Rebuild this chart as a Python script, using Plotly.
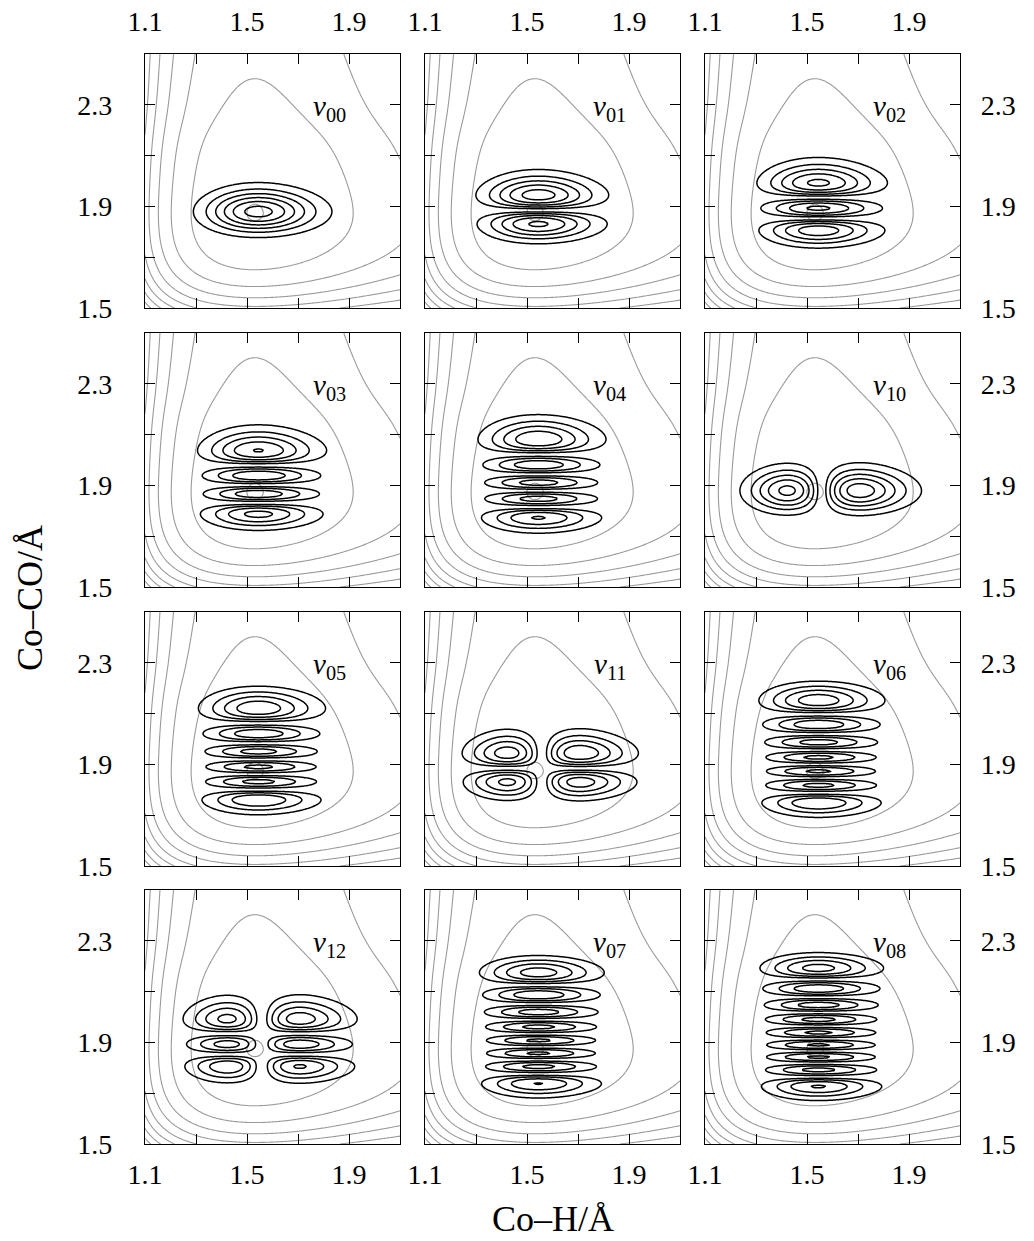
import numpy as np
import plotly.graph_objects as go

# ---------------- axes / ticks ----------------
X_RANGE = [1.1, 2.1]
Y_RANGE = [1.5, 2.5]
TICK_VALS_X = [1.1, 1.3, 1.5, 1.7, 1.9, 2.1]
TICK_TEXT_X = ["1.1", "", "1.5", "", "1.9", ""]
TICK_VALS_Y = [1.5, 1.7, 1.9, 2.1, 2.3, 2.5]
TICK_TEXT_Y = ["1.5", "", "1.9", "", "2.3", ""]

# ---------------- model potential (energy in units of the contour spacing) ----------------
MIN_XY = [1.53, 1.875]        # equilibrium Co-H, Co-CO
MORSE_X = [6.41, 1.3]         # depth, range parameter along Co-H
WALL_X = [0.93, 15.0]         # extra inner wall: amplitude at 1.1 A, steepness
MORSE_Y = [1.876, 2.44]       # Co-CO Morse: depth, range
PES_SHELF_Y = [0.22, 7.1]        # Co-CO stretch side: shelf depth, range
PES_STEP_Y = [0.6, 0.33, 0.05]   # rise beyond the shelf: height, position, width
PES_RISE_Y = [1.2, 0.35, 0.05]   # slow climb: slope, onset, smoothing
PES_BLEND = 0.5                  # Morse / shelf mix on the stretch side
PES_LEVELS = [1, 2, 3, 4, 5, 6, 7, 8, 9]
PES_MIN_LEVEL = 0.013

# ---------------- vibrational states ----------------
KAPPA = [4.13e-3, 8.0e-5]        # hbar^2/2m along Co-H, Co-CO
WF_INNER_K = 11.17               # harmonic compression side felt by the states
WF_SHELF_Y = [0.33, 5.82]
WF_STEP_Y = [0.6, 0.40, 0.03]
WF_RISE_Y = [1.2, 0.42, 0.03]
PSI_STEP = 0.155                 # contour spacing of psi, relative to the v00 peak
N_PSI_LEVELS = 8
STATES = ["00", "01", "02", "03", "04", "10", "05", "11", "06", "12", "07", "08"]
QX = [0, 0, 0, 0, 0, 1, 0, 1, 0, 1, 0, 0]
QY = [0, 1, 2, 3, 4, 0, 5, 1, 6, 2, 7, 8]
LABEL_POS = [1.825, 2.287]

# ---------------- layout (pixels) ----------------
W, H = 1034, 1241
COL_LEFT = [145, 425, 705]
ROW_TOP = [54, 333, 612, 890]
PW, PH = 255, 254
FONT = "Liberation Serif"


def vx(x):
    d, a = MORSE_X
    b, k = WALL_X
    return d * (1 - np.exp(-a * (x - MIN_XY[0]))) ** 2 + b * np.exp(-k * (x - 1.1))


def shelf(d, sh, step, rise):
    ds, as_ = sh
    h, dw, w = step
    g, dw2, w2 = rise
    return (ds * (1 - np.exp(-as_ * d)) ** 2
            + h / (1 + np.exp(-(d - dw) / w))
            + g * w2 * np.logaddexp(0, (d - dw2) / w2))


def vy_pes(y):
    d = y - MIN_XY[1]
    dm, am = MORSE_Y
    morse = dm * (1 - np.exp(-am * d)) ** 2
    outer = PES_BLEND * morse + (1 - PES_BLEND) * shelf(d, PES_SHELF_Y, PES_STEP_Y, PES_RISE_Y)
    return np.where(d < 0, morse, outer)


def vy_wf(y):
    d = y - MIN_XY[1]
    return np.where(d < 0, WF_INNER_K * d ** 2, shelf(d, WF_SHELF_Y, WF_STEP_Y, WF_RISE_Y))


def eig1d(grid, pot, kappa, n):
    h = grid[1] - grid[0]
    main = 2 * kappa / h ** 2 + pot
    off = -kappa / h ** 2 * np.ones(len(grid) - 1)
    Hm = np.diag(main) + np.diag(off, 1) + np.diag(off, -1)
    w, vecs = np.linalg.eigh(Hm)
    return vecs[:, :n] / np.sqrt(h)


NG = 181
XS = np.linspace(X_RANGE[0], X_RANGE[1], NG)
YS = np.linspace(Y_RANGE[0], Y_RANGE[1], NG)
V = vx(XS)[None, :] + vy_pes(YS)[:, None]

XF = np.linspace(1.44, 1.62, 61)
YF = np.linspace(1.80, 1.95, 61)
VF = vx(XF)[None, :] + vy_pes(YF)[:, None]

gx = np.linspace(0.9, 2.9, 700)
gy = np.linspace(1.35, 3.0, 800)
PHI_X = eig1d(gx, vx(gx), KAPPA[0], 3)
PHI_Y = eig1d(gy, vy_wf(gy), KAPPA[1], 10)


def psi_abs(nx, ny):
    fxv = np.abs(np.interp(XS, gx, PHI_X[:, nx]))
    fyv = np.abs(np.interp(YS, gy, PHI_Y[:, ny]))
    return fyv[:, None] * fxv[None, :]


PSI_UNIT = PSI_STEP * psi_abs(0, 0).max()

fig = go.Figure()
layout = dict(
    width=W, height=H, margin=dict(l=0, r=0, t=0, b=0, autoexpand=False),
    paper_bgcolor="white", plot_bgcolor="white", showlegend=False,
    font=dict(family=FONT, color="black"),
)
annotations = []

for i, st in enumerate(STATES):
    r, c = divmod(i, 3)
    k = "" if i == 0 else str(i + 1)
    xa, ya = "x" + k, "y" + k

    fig.add_trace(go.Contour(
        x=XS, y=YS, z=np.round(V, 4), xaxis=xa, yaxis=ya,
        autocontour=False, showscale=False, hoverinfo="skip",
        contours=dict(start=PES_LEVELS[0], end=PES_LEVELS[-1], size=1, coloring="none"),
        line=dict(color="#9a9a9a", width=1.1, smoothing=1.0),
    ))
    fig.add_trace(go.Contour(
        x=XF, y=YF, z=np.round(VF, 5), xaxis=xa, yaxis=ya,
        autocontour=False, showscale=False, hoverinfo="skip",
        contours=dict(start=PES_MIN_LEVEL, end=PES_MIN_LEVEL, size=1, coloring="none"),
        line=dict(color="#9a9a9a", width=1.1),
    ))

    zp = psi_abs(QX[i], QY[i]) / PSI_UNIT
    fig.add_trace(go.Contour(
        x=XS, y=YS, z=np.round(zp, 4), xaxis=xa, yaxis=ya,
        autocontour=False, showscale=False, hoverinfo="skip",
        contours=dict(start=1, end=N_PSI_LEVELS, size=1, coloring="none"),
        line=dict(color="black", width=1.5, smoothing=1.0),
    ))

    x0 = COL_LEFT[c] / W
    x1 = (COL_LEFT[c] + PW) / W
    y1 = 1 - ROW_TOP[r] / H
    y0 = 1 - (ROW_TOP[r] + PH) / H
    common = dict(
        showgrid=False, zeroline=False, showline=True, linecolor="black", linewidth=1.4,
        mirror="ticks", ticks="inside", ticklen=10, tickwidth=1.4, tickcolor="black",
        tickfont=dict(family=FONT, size=28, color="black"), automargin=False,
    )
    layout["xaxis" + k] = dict(
        common, domain=[x0, x1], range=X_RANGE, anchor=ya,
        tickmode="array", tickvals=TICK_VALS_X, ticktext=TICK_TEXT_X,
        side="top" if r == 0 else "bottom",
        showticklabels=(r == 0 or r == 3), ticklabelstandoff=11 if r == 0 else 5,
    )
    layout["yaxis" + k] = dict(
        common, domain=[y0, y1], range=Y_RANGE, anchor=xa,
        tickmode="array", tickvals=TICK_VALS_Y, ticktext=TICK_TEXT_Y,
        side="right" if c == 2 else "left",
        showticklabels=(c == 0 or c == 2), ticklabelstandoff=14 if c == 2 else 26,
    )
    annotations.append(dict(
        x=LABEL_POS[0], y=LABEL_POS[1], xref=xa, yref=ya, showarrow=False,
        text="<i>v</i><sub>" + st + "</sub>", font=dict(family=FONT, size=29, color="black"),
        xanchor="center", yanchor="middle",
    ))

annotations.append(dict(
    x=553 / W, y=1 - 1219 / H, xref="paper", yref="paper", showarrow=False,
    text="Co–H/Å", font=dict(family=FONT, size=36, color="black"),
    xanchor="center", yanchor="middle",
))
annotations.append(dict(
    x=30 / W, y=1 - 598 / H, xref="paper", yref="paper", showarrow=False,
    text="Co–CO/Å", textangle=-90, font=dict(family=FONT, size=36, color="black"),
    xanchor="center", yanchor="middle",
))
layout["annotations"] = annotations
fig.update_layout(**layout)
fig.write_html("out.html")
